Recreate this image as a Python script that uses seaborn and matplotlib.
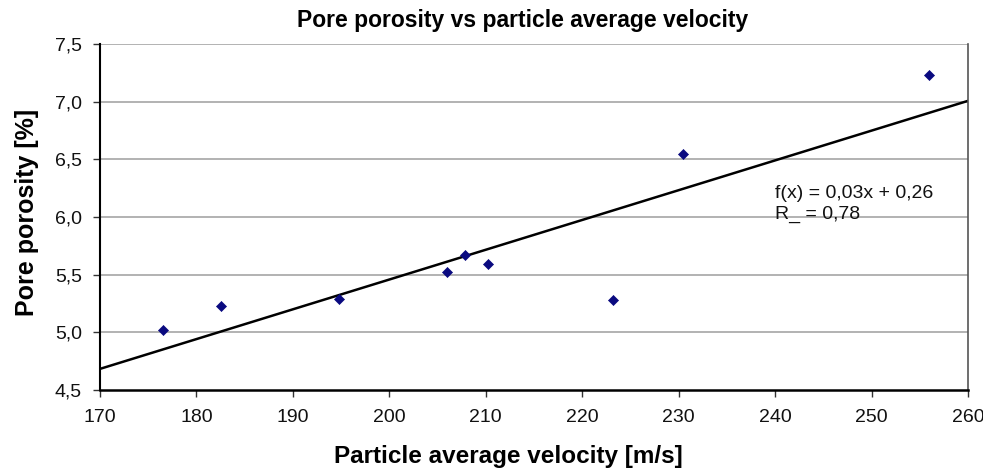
import matplotlib
matplotlib.use("Agg")
import matplotlib.pyplot as plt
import matplotlib.ticker as mticker
import numpy as np
import pandas as pd
import seaborn as sns

# Data
velocity = [176.5, 182.5, 194.8, 206.0, 207.8, 210.2, 223.2, 230.5, 256.0]
porosity = [5.02, 5.23, 5.29, 5.52, 5.67, 5.59, 5.28, 6.55, 7.23]
x_ticks = [170, 180, 190, 200, 210, 220, 230, 240, 250, 260]
y_ticks = [4.5, 5.0, 5.5, 6.0, 6.5, 7.0, 7.5]
title = "Pore porosity vs particle average velocity"
x_label = "Particle average velocity [m/s]"
y_label = "Pore porosity [%]"
eq_text = "f(x) = 0,03x + 0,26\nR_ = 0,78"

df = pd.DataFrame({"v": velocity, "p": porosity})

sns.set_theme(style="white")
plt.rcParams["font.family"] = ["Liberation Sans", "DejaVu Sans"]
plt.rcParams["text.color"] = "black"
plt.rcParams["axes.labelcolor"] = "black"
plt.rcParams["xtick.color"] = "black"
plt.rcParams["ytick.color"] = "black"

W, H = 983, 471
fig = plt.figure(figsize=(W / 100, H / 100), dpi=100)
ax = fig.add_axes([100 / W, 1 - 390 / H, 868 / W, 346 / H])

ax.set_xlim(x_ticks[0], x_ticks[-1])
ax.set_ylim(y_ticks[0], y_ticks[-1])

for yv in y_ticks[1:]:
    ax.axhline(yv, color="#a6a6a6", lw=1.2, zorder=0)

sns.regplot(data=df, x="v", y="p", scatter=False, ci=None, truncate=False,
            line_kws=dict(color="black", lw=1.8), ax=ax)
sns.scatterplot(data=df, x="v", y="p", marker="D", s=26, color="#0a0a80",
                edgecolor="#0a0a80", linewidth=0.5, ax=ax, zorder=5)

ax.set_xlim(x_ticks[0], x_ticks[-1])
ax.set_ylim(y_ticks[0], y_ticks[-1])
ax.set_xticks(x_ticks)
ax.set_yticks(y_ticks)
fmt = mticker.FuncFormatter(lambda v, p: f"{v:.1f}".replace(".", ","))
ax.yaxis.set_major_formatter(fmt)
ax.xaxis.set_major_formatter(mticker.FuncFormatter(lambda v, p: f"{v:.0f}"))
ax.tick_params(axis="both", which="major", labelsize=14, length=5, width=1,
               direction="out", color="#333333", bottom=True, left=True,
               labelcolor="#111111")
ax.tick_params(axis="x", pad=9)
ax.tick_params(axis="y", pad=8)

ax.spines["top"].set_visible(False)
ax.spines["right"].set_color("#555555")
ax.spines["right"].set_linewidth(1.2)
ax.spines["left"].set_color("black")
ax.spines["left"].set_linewidth(1.5)
ax.spines["bottom"].set_color("black")
ax.spines["bottom"].set_linewidth(1.8)

ax.set_title("")
fig.text(523 / W, 1 - 20 / H, title, fontsize=16.5, fontweight="bold",
         ha="center", va="center", color="black")
ax.set_xlabel("")
ax.set_ylabel("")
fig.text(508 / W, 1 - 457 / H, x_label, fontsize=17.5, fontweight="bold",
         ha="center", va="center", color="black")
fig.text(27 / W, 1 - 212 / H, y_label, fontsize=18, fontweight="bold",
         ha="center", va="center", rotation=90, color="black")

ax.text(240.0, 6.11, eq_text, fontsize=14, ha="left", va="center",
        linespacing=1.3, color="#111111")

fig.savefig("out.png", dpi=100)
